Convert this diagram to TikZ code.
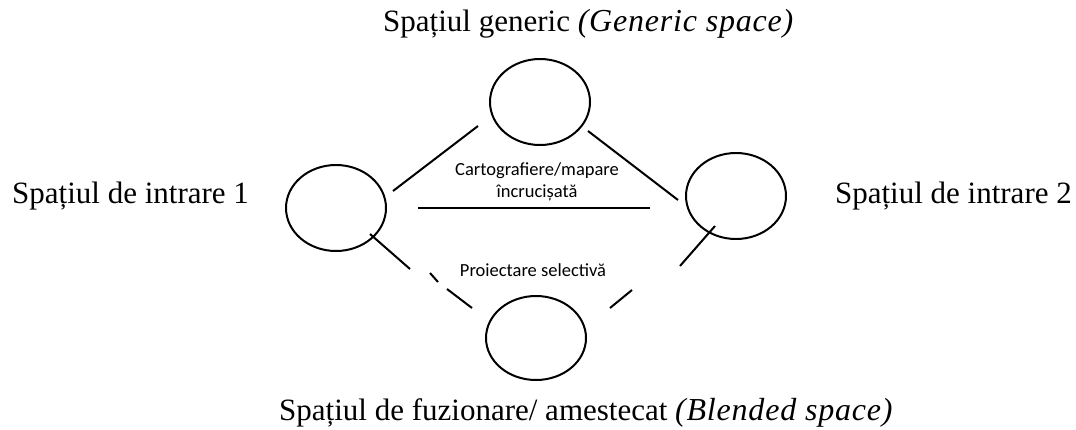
\documentclass[tikz,border=0pt]{standalone}
\usepackage{fontspec}
\setmainfont{Liberation Serif}
\newfontfamily\lblsans{Carlito}
\usetikzlibrary{shapes.geometric}
\newcommand{\wideit}[1]{{\fontsize{32}{36}\selectfont\itshape\addfontfeatures{LetterSpace=2.5}#1}}
\tikzset{
  space/.style={ellipse, draw, line width=2pt, minimum width=100pt, minimum height=86pt, inner sep=0pt},
  link/.style={line width=2pt},
  bigtext/.style={font=\fontsize{31}{36}\selectfont, inner sep=0pt},
  smalltext/.style={font=\lblsans\fontsize{18.5}{22}\selectfont, inner sep=0pt, anchor=base},
}
\begin{document}
\begin{tikzpicture}[x=1pt,y=-1pt]
\useasboundingbox (0,0) rectangle (1076,429);
% ellipses
\node[space] (gen) at (540,102) {};
\node[space] (in1) at (336,208) {};
\node[space] (in2) at (736,196) {};
\node[space, minimum height=84pt] (bl) at (536,338) {};
% connector end points
\coordinate (a1) at (393,191);
\coordinate (a2) at (478,126);
\coordinate (b1) at (588,131);
\coordinate (b2) at (678,200);
\coordinate (c1) at (418,208);
\coordinate (c2) at (650,208);
\coordinate (d1) at (370,234);
\coordinate (d2) at (410,269);
\coordinate (d3) at (430,273);
\coordinate (d4) at (438,282);
\coordinate (d5) at (447,289);
\coordinate (d6) at (472,308);
\coordinate (e1) at (715,226);
\coordinate (e2) at (680,266);
\coordinate (e3) at (632,290);
\coordinate (e4) at (610,308);
\draw[link] (a1) -- (a2);
\draw[link] (b1) -- (b2);
\draw[link] (c1) -- (c2);
\draw[link] (d1) -- (d2);
\draw[link] (d3) -- (d4);
\draw[link] (d5) -- (d6);
\draw[link] (e1) -- (e2);
\draw[link] (e3) -- (e4);
% labels
\node[bigtext, anchor=base west] (tgen) at (383,31) {Spațiul generic \wideit{(Generic space)}};
\node[bigtext, anchor=base west] (tin1) at (12,203) {Spațiul de intrare 1};
\node[bigtext, anchor=base east] (tin2) at (1072,203) {Spațiul de intrare 2};
\node[bigtext, anchor=base west] (tbl) at (279,420) {Spațiul de fuzionare/ amestecat \wideit{(Blended space)}};
\node[smalltext] (m1) at (537,175) {Cartografiere/mapare};
\node[smalltext] (m2) at (537,197) {încrucișată};
\node[smalltext] (p1) at (533,276) {Proiectare selectivă};
\end{tikzpicture}
\end{document}
